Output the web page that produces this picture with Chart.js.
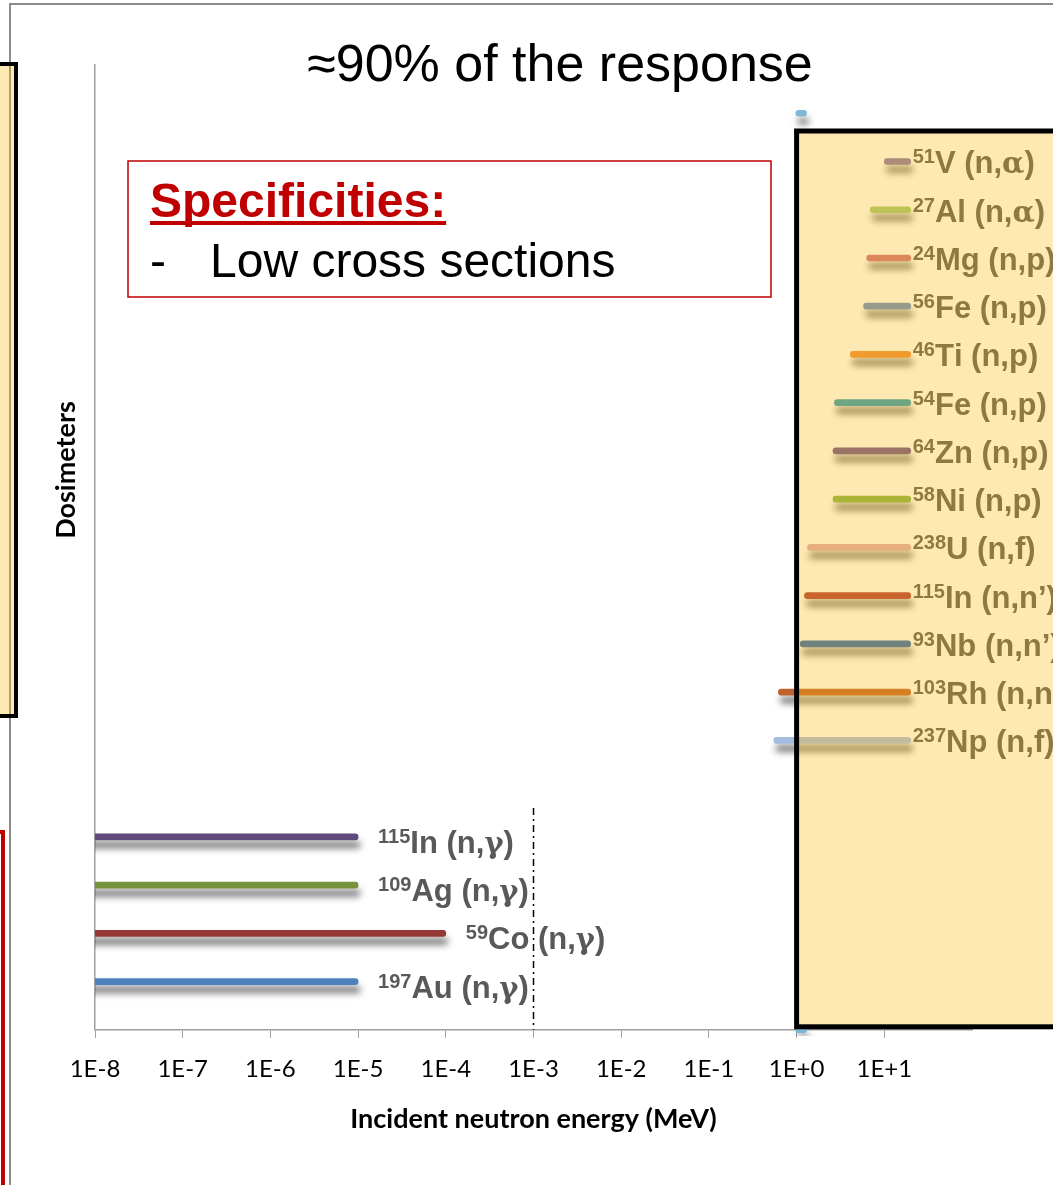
<!DOCTYPE html>
<html>
<head>
<meta charset="utf-8">
<script src="https://cdn.jsdelivr.net/npm/chart.js@4.4.1/dist/chart.umd.min.js"></script>
<style>
  html, body { margin: 0; padding: 0; background: #fff; }
  canvas { display: block; }
</style>
</head>
<body>
<canvas id="DOSECHART" width="1053" height="1185"></canvas>
<script>
// rows from top to bottom, blank rows are empty slots of the chart
const massNumbers = ['', '', '51', '27', '24', '56', '46', '54', '64', '58', '238', '115', '93', '103', '237', '', '115', '109', '59', '197', ''];
const reactionNames = ['', '', 'V (n,\u03b1)', 'Al (n,\u03b1)', 'Mg (n,p)', 'Fe (n,p)', 'Ti (n,p)', 'Fe (n,p)', 'Zn (n,p)', 'Ni (n,p)', 'U (n,f)',
  'In (n,n\u2019)', 'Nb (n,n\u2019)', 'Rh (n,n\u2019)', 'Np (n,f)', '', 'In (n,\u03b3)', 'Ag (n,\u03b3)', 'Co (n,\u03b3)', 'Au (n,\u03b3)', ''];

// energy range covering ~90% of the response (MeV)
const lowEnergy  = [null, 0.98, 10, 6.9, 6.3, 5.8, 4.1, 2.7, 2.6, 2.6, 1.33, 1.23, 1.1, 0.62, 0.55, null, 1e-9, 1e-9, 1e-9, 1e-9, 0.98];
const highEnergy = [null, 1.3, 20, 20, 20, 20, 20, 20, 20, 20, 20, 20, 20, 20, 20, null, 1e-5, 1e-5, 1e-4, 1e-5, 1.3];

const xTickValues = [1e-8, 1e-7, 1e-6, 1e-5, 1e-4, 1e-3, 1e-2, 1e-1, 1e0, 1e1];
const thermalLimit = 1e-3;

const barColors = ['rgba(0,0,0,0)', '#7FB8D6', '#8374A7', '#9EC673', '#CB6D7A', '#638BC5', '#E98B37', '#279AB6', '#6A4F89', '#80B046',
  '#DAA9AF', '#AD3937', '#2765AF', '#C0622C', '#A5BCE0', 'rgba(0,0,0,0)', '#604A7B', '#77933C', '#953735', '#4F81BD', '#7FB8D6'];

const rowLabels = massNumbers.map((m, i) => m + reactionNames[i]);
const ranges = lowEnergy.map((lo, i) => lo === null ? null : [lo, highEnergy[i]]);

Chart.defaults.font.family = 'Lato, sans-serif';

const ARIAL = '"Liberation Sans", Arial, sans-serif';
const GREEK = '"DejaVu Serif", serif';

// draw text, greek letters in a symbol-like face
function drawMixed(ctx, text, x, y, size) {
  for (const ch of text) {
    ctx.font = /[\u0370-\u03ff]/.test(ch) ? 'bold ' + (size - 2) + 'px ' + GREEK : 'bold ' + size + 'px ' + ARIAL;
    ctx.fillText(ch, x, y);
    x += ctx.measureText(ch).width;
  }
}

const barShadow = {
  id: 'barShadow',
  beforeDatasetsDraw(chart) {
    const c = chart.ctx;
    c.save();
    c.shadowColor = 'rgba(0,0,0,0.55)';
    c.shadowBlur = 7;
    c.shadowOffsetX = 2;
    c.shadowOffsetY = 8;
  },
  afterDatasetsDraw(chart) {
    chart.ctx.restore();
  }
};

const isotopeLabels = {
  id: 'isotopeLabels',
  afterDatasetsDraw(chart) {
    const ctx = chart.ctx;
    const meta = chart.getDatasetMeta(0);
    ctx.save();
    ctx.fillStyle = '#595959';
    ctx.textBaseline = 'alphabetic';
    ctx.textAlign = 'left';
    meta.data.forEach((bar, i) => {
      if (!reactionNames[i]) return;
      const fast = lowEnergy[i] >= 0.1;
      let x = bar.x + (fast ? 2 : 20);
      const base = bar.y + (fast ? 12 : 16);
      ctx.font = 'bold 20px ' + ARIAL;
      ctx.fillText(massNumbers[i], x, base - 10);
      x += ctx.measureText(massNumbers[i]).width;
      drawMixed(ctx, reactionNames[i], x, base, 31);
    });
    ctx.restore();
  }
};

const slideDecor = {
  id: 'slideDecor',
  afterDatasetsDraw(chart) {
    const ctx = chart.ctx;
    const area = chart.chartArea;
    const xs = chart.scales.x;
    ctx.save();

    // dash-dot limit line at 1E-3
    const xl = xs.getPixelForValue(thermalLimit);
    ctx.strokeStyle = '#000';
    ctx.lineWidth = 1.5;
    ctx.setLineDash([7, 4, 2, 4]);
    ctx.beginPath();
    ctx.moveTo(xl, 808);
    ctx.lineTo(xl, area.bottom);
    ctx.stroke();
    ctx.setLineDash([]);

    // frame of the chart object
    ctx.strokeStyle = '#8C8C8C';
    ctx.lineWidth = 2;
    ctx.beginPath();
    ctx.moveTo(10, 1190);
    ctx.lineTo(10, 4);
    ctx.lineTo(1060, 4);
    ctx.stroke();

    // highlighted box for threshold dosimeters
    const x0 = xs.getPixelForValue(1);
    const top = 131, bottom = area.bottom - 3;
    ctx.fillStyle = 'rgba(255,188,25,0.33)';
    ctx.fillRect(x0, top, 1100 - x0, bottom - top);
    ctx.strokeStyle = '#000';
    ctx.lineWidth = 5;
    ctx.strokeRect(x0, top, 1100 - x0, bottom - top);

    // neighbouring boxes at the left edge
    ctx.fillStyle = 'rgba(255,188,25,0.33)';
    ctx.fillRect(-20, 64, 36, 652);
    ctx.lineWidth = 4;
    ctx.strokeRect(-20, 64, 36, 652);
    ctx.strokeStyle = '#C00000';
    ctx.strokeRect(-20, 832, 23, 500);

    // specificities text box
    ctx.fillStyle = '#fff';
    ctx.fillRect(128, 161, 643, 136);
    ctx.strokeStyle = '#C00000';
    ctx.lineWidth = 1.5;
    ctx.strokeRect(128, 161, 643, 136);
    ctx.textBaseline = 'alphabetic';
    ctx.textAlign = 'left';
    ctx.font = 'bold 48px ' + ARIAL;
    ctx.fillStyle = '#C00000';
    ctx.fillText('Specificities:', 150, 217);
    const w = ctx.measureText('Specificities:').width;
    ctx.fillRect(150, 221, w, 4);
    ctx.font = '48px ' + ARIAL;
    ctx.fillStyle = '#000';
    ctx.fillText('-', 150, 277);
    ctx.fillText('Low cross sections', 210, 277);

    // title
    ctx.font = '52px ' + ARIAL;
    ctx.textAlign = 'center';
    ctx.textBaseline = 'middle';
    ctx.fillText('\u224890% of the response', 560, 67);

    // y axis title
    ctx.translate(66, 470);
    ctx.rotate(-Math.PI / 2);
    ctx.font = 'bold 27px Lato, sans-serif';
    ctx.fillText('Dosimeters', 0, 0);
    ctx.restore();
  }
};

const ctx = document.getElementById('DOSECHART');

const dose_chart = new Chart(ctx, {
  type: 'bar',
  data: {
    labels: rowLabels,
    datasets: [{
      label: '90% response range',
      data: ranges,
      backgroundColor: barColors,
      barThickness: 6,
      borderRadius: 3,
      borderSkipped: false,
      clip: {left: 0, top: 10, right: 10, bottom: 6}
    }]
  },
  options: {
    indexAxis: 'y',
    responsive: false,
    animation: false,
    layout: {
      padding: {top: 65, left: 95, right: 81, bottom: 46}
    },
    scales: {
      x: {
        type: 'logarithmic',
        min: 1e-8,
        max: 100,
        afterBuildTicks: scale => {
          scale.ticks = xTickValues.map(v => ({value: v}));
        },
        ticks: {
          color: '#000',
          font: {size: 24},
          padding: 17,
          maxRotation: 0,
          autoSkip: false,
          callback: v => {
            const e = Math.round(Math.log10(v));
            return '1E' + (e >= 0 ? '+' : '') + e;
          }
        },
        grid: {
          drawOnChartArea: false,
          drawTicks: true,
          tickLength: 8,
          color: '#A0A0A0'
        },
        border: {display: true, color: '#A0A0A0', width: 1.5},
        title: {
          display: true,
          text: 'Incident neutron energy (MeV)',
          color: '#000',
          font: {size: 27, weight: 'bold'},
          padding: {top: 2, bottom: 4}
        }
      },
      y: {
        type: 'category',
        offset: false,
        ticks: {display: false},
        grid: {drawOnChartArea: false, drawTicks: false},
        border: {display: true, color: '#A0A0A0', width: 1.5}
      }
    },
    plugins: {
      legend: {display: false},
      tooltip: {enabled: false}
    }
  },
  plugins: [barShadow, isotopeLabels, slideDecor]
});
</script>
</body>
</html>
